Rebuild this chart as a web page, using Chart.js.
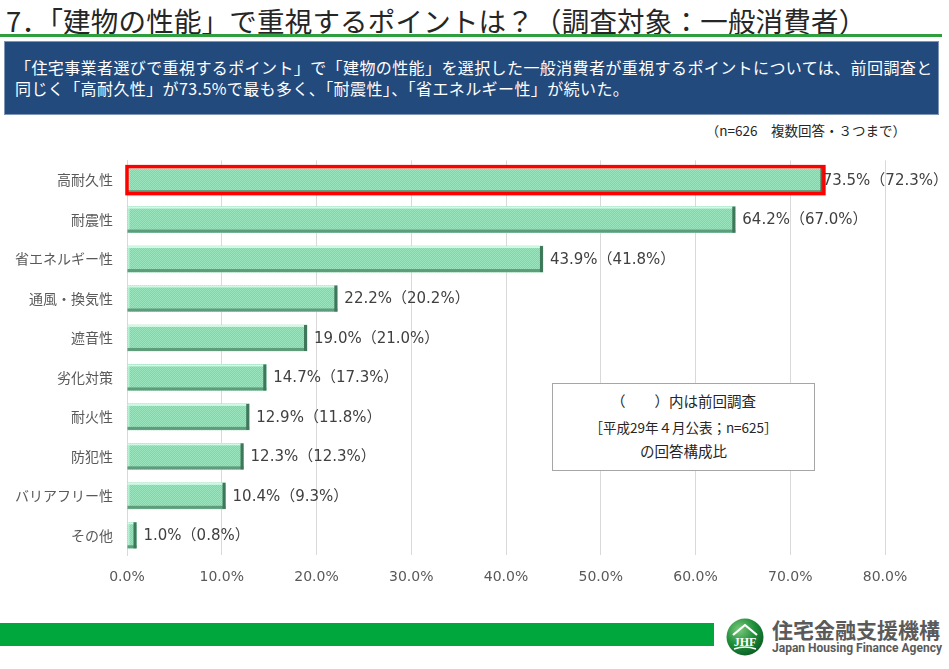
<!DOCTYPE html>
<html lang="ja">
<head>
<meta charset="utf-8">
<script src="https://cdn.jsdelivr.net/npm/chart.js@4.4.1/dist/chart.umd.min.js"></script>
<style>
  html, body { margin:0; padding:0; background:#fff; }
  body { width:949px; height:669px; position:relative; overflow:hidden; font-family:"Noto Sans CJK JP","Noto Sans",sans-serif; }
  #title { position:absolute; left:6px; top:1px; font-size:27.5px; line-height:38px; color:#262626; white-space:nowrap; letter-spacing:0.2px; }
  #rule { position:absolute; left:0; top:34px; width:942px; height:3px; background:#2f9e3f; }
  #lead { position:absolute; left:4px; top:41px; width:935px; height:74px; background:#234a7c; border:1px solid #7f95b5; box-sizing:border-box; color:#fff; font-size:16px; line-height:21px; padding:15px 0 0 10px; white-space:nowrap; letter-spacing:0.4px; }
  #note { position:absolute; right:43px; top:120px; font-size:13.5px; color:#262626; white-space:nowrap; }
  #chartWrap { position:absolute; left:0; top:138px; width:949px; height:462px; }
  #legendBox { position:absolute; left:552px; top:383px; width:263px; height:88px; box-sizing:border-box; border:1px solid #a6a6a6; background:#fff; text-align:center; color:#262626; z-index:2; }
  #legendBox .l1 { position:absolute; left:0; right:0; top:7px; font-size:14.5px; line-height:20px; }
  #legendBox .l2 { position:absolute; left:0; right:0; top:33px; font-size:13.5px; line-height:20px; }
  #legendBox .l3 { position:absolute; left:0; right:0; top:57px; font-size:14.5px; line-height:20px; }
  #footBar { position:absolute; left:0; top:623px; width:714px; height:23px; background:#00a73c; }
  #logo { position:absolute; left:726px; top:618px; width:38px; height:38px; }
  #orgJa { position:absolute; left:772px; top:614px; font-size:21px; line-height:30px; font-weight:bold; color:#5a5a5a; white-space:nowrap; }
  #orgEn { position:absolute; left:772px; top:641px; font-family:"Roboto","Liberation Sans",sans-serif; font-size:12px; line-height:14px; font-weight:bold; color:#5a5a5a; white-space:nowrap; transform-origin:left top; }
</style>
</head>
<body>
<div id="title">7．「建物の性能」で重視するポイントは？（調査対象：一般消費者）</div>
<div id="rule"></div>
<div id="lead">「住宅事業者選びで重視するポイント」で「建物の性能」を選択した一般消費者が重視するポイントについては、前回調査と<br>同じく「高耐久性」が73.5%で最も多く、「耐震性」、「省エネルギー性」が続いた。</div>
<div id="note">（n=626　複数回答・３つまで）</div>
<div id="chartWrap"><canvas id="chart" width="949" height="462"></canvas></div>
<div id="legendBox">
  <div class="l1">（　　）内は前回調査</div>
  <div class="l2">［平成29年４月公表；n=625］</div>
  <div class="l3">の回答構成比</div>
</div>
<div id="footBar"></div>
<svg id="logo" viewBox="0 0 38 38">
  <defs>
    <radialGradient id="lg" cx="35%" cy="30%" r="75%">
      <stop offset="0" stop-color="#7cc97c"/>
      <stop offset="0.55" stop-color="#1f8f3a"/>
      <stop offset="1" stop-color="#0b5e25"/>
    </radialGradient>
  </defs>
  <circle cx="19" cy="19" r="18.5" fill="url(#lg)"/>
  <path d="M7 17 L19 7 L31 17" fill="none" stroke="#fff" stroke-width="2.2" stroke-linejoin="round"/>
  <text x="19" y="28" text-anchor="middle" font-family="Liberation Serif,serif" font-size="12" font-weight="bold" fill="#fff">JHF</text>
  <path d="M8 31 Q19 27 30 31" fill="none" stroke="#fff" stroke-width="1.5"/>
</svg>
<div id="orgJa">住宅金融支援機構</div>
<div id="orgEn">Japan Housing Finance Agency</div>

<script>
// ---- data ----
const categories = ["高耐久性","耐震性","省エネルギー性","通風・換気性","遮音性","劣化対策","耐火性","防犯性","バリアフリー性","その他"];
const currentValues = [73.5, 64.2, 43.9, 22.2, 19.0, 14.7, 12.9, 12.3, 10.4, 1.0];
const previousValues = [72.3, 67.0, 41.8, 20.2, 21.0, 17.3, 11.8, 12.3, 9.3, 0.8];
const xTicks = [0, 10, 20, 30, 40, 50, 60, 70, 80];
const highlightIndex = 0;

// fit English org name to width
(function(){
  const en = document.getElementById('orgEn');
  const w = en.getBoundingClientRect().width;
  en.style.transform = 'scaleX(' + (170 / w) + ')';
})();

// checkered bar pattern
function makePattern() {
  const c = document.createElement('canvas');
  c.width = 2; c.height = 2;
  const g = c.getContext('2d');
  g.fillStyle = '#9ae4be'; g.fillRect(0,0,2,2);
  g.fillStyle = '#84d4aa'; g.fillRect(1,0,1,1); g.fillRect(0,1,1,1);
  return g.createPattern(c, 'repeat');
}
const ctx = document.getElementById('chart').getContext('2d');
const pattern = makePattern();
const numFont = '"DejaVu Sans", "Noto Sans CJK JP", sans-serif';

const barDecor = {
  id: 'barDecor',
  afterDatasetsDraw(chart) {
    const c = chart.ctx;
    const meta = chart.getDatasetMeta(0);
    c.save();
    meta.data.forEach((bar, i) => {
      const p = bar.getProps(['x','y','base','height'], true);
      const left = Math.min(p.base, p.x), right = Math.max(p.base, p.x);
      const top = p.y - p.height / 2, bottom = p.y + p.height / 2;
      const w = right - left, h = bottom - top;
      c.fillStyle = 'rgba(225,255,240,0.8)';
      c.fillRect(left, top, w, 2);
      c.fillStyle = 'rgba(210,252,232,0.6)';
      c.fillRect(left, top, Math.min(2, w), h);
      c.fillStyle = '#5f9c7b';
      c.fillRect(left, bottom - 3, w, 3);
      c.fillStyle = '#3f775a';
      c.fillRect(Math.max(left, right - 3), top, Math.min(3, w), h);
      if (i === highlightIndex) {
        c.strokeStyle = '#ff0000';
        c.lineWidth = 3.5;
        c.strokeRect(left - 0.5, top - 0.5, w + 1, h + 1);
      }
    });
    c.font = '15px ' + numFont;
    c.fillStyle = '#404040';
    c.textBaseline = 'middle';
    c.textAlign = 'left';
    meta.data.forEach((bar, i) => {
      const p = bar.getProps(['x','y'], true);
      const txt = currentValues[i].toFixed(1) + '%（' + previousValues[i].toFixed(1) + '%）';
      const tw = c.measureText(txt).width;
      let x = p.x + (i === highlightIndex ? 4 : 7);
      x = Math.min(x, chart.width - tw - 1);
      c.fillText(txt, x, p.y + 1);
    });
    c.restore();
  }
};

new Chart(ctx, {
  type: 'bar',
  data: {
    labels: categories,
    datasets: [{
      data: currentValues,
      backgroundColor: pattern,
      borderWidth: 0,
      barThickness: 26
    }]
  },
  options: {
    indexAxis: 'y',
    responsive: false,
    animation: false,
    layout: { padding: { top: 10, right: 64, left: 0, bottom: 0 } },
    plugins: { legend: { display: false }, tooltip: { enabled: false } },
    scales: {
      x: {
        min: xTicks[0], max: xTicks[xTicks.length - 1],
        afterBuildTicks(scale) { scale.ticks = xTicks.map(v => ({ value: v })); },
        afterFit(scale) { scale.height = 45; },
        grid: { color: '#d9d9d9', lineWidth: 1, drawTicks: false },
        border: { display: false },
        ticks: {
          padding: 14,
          color: '#595959',
          font: { family: numFont, size: 14 },
          callback: v => Number(v).toFixed(1) + '%'
        }
      },
      y: {
        afterFit(scale) { scale.width = 127; },
        grid: { display: false, drawTicks: false },
        border: { display: true, color: '#d9d9d9' },
        ticks: {
          padding: 14,
          color: '#595959',
          font: { family: '"Noto Sans CJK JP", sans-serif', size: 14 }
        }
      }
    }
  },
  plugins: [barDecor]
});
</script>
</body>
</html>
